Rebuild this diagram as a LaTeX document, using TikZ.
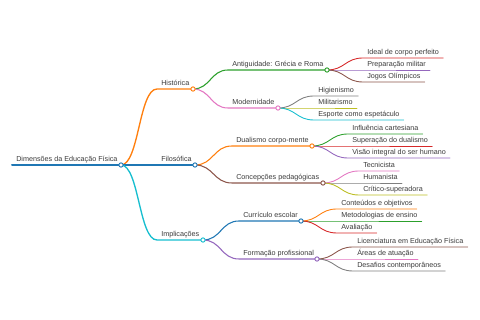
\documentclass[tikz,border=0pt]{standalone}
\usepackage{fontspec}
\setmainfont{Liberation Sans}
\usetikzlibrary{calc}

\definecolor{tBlue}{HTML}{1F77B4}
\definecolor{tOrange}{HTML}{FF7F0E}
\definecolor{tGreen}{HTML}{2CA02C}
\definecolor{tRed}{HTML}{D62728}
\definecolor{tPurple}{HTML}{9467BD}
\definecolor{tBrown}{HTML}{8C564B}
\definecolor{tPink}{HTML}{E377C2}
\definecolor{tGray}{HTML}{7F7F7F}
\definecolor{tOlive}{HTML}{BCBD22}
\definecolor{tCyan}{HTML}{17BECF}
\definecolor{txt}{HTML}{3A3A3A}

\tikzset{
  lbl/.style={anchor=south west,inner xsep=3pt,inner ysep=2.25pt,text depth=0pt,text=txt},
  hub/.style={circle,draw,fill=white,line width=0.7pt,inner sep=0pt,minimum size=3.2pt},
  branch/.style={to path={let \p1=(\tikztostart),\p2=(\tikztotarget) in
    .. controls ({(\x1+\x2)/2},\y1) and ({(\x1+\x2)/2},\y2) .. (\tikztotarget)}},
  lvone/.style={line width=1pt},
  lvtwo/.style={line width=0.8pt},
  lvthree/.style={line width=0.65pt},
}

\begin{document}
\begin{tikzpicture}[x=0.75pt,y=-0.75pt,line cap=round,font=\fontsize{5.4}{6.5}\selectfont]
  \useasboundingbox (0,0) rectangle (480,320);

  % 起点与圆心
  \coordinate (root-s) at (12,165);    \coordinate (root-c) at (121,165);
  \coordinate (hist-s) at (157,89);    \coordinate (hist-c) at (193,89);
  \coordinate (filo-s) at (157,165);   \coordinate (filo-c) at (195,165);
  \coordinate (impl-s) at (157,240);   \coordinate (impl-c) at (203,240);
  \coordinate (anti-s) at (228,70);    \coordinate (anti-c) at (327,70);
  \coordinate (mode-s) at (228,108);   \coordinate (mode-c) at (278,108);
  \coordinate (dual-s) at (232,146);   \coordinate (dual-c) at (312,146);
  \coordinate (conc-s) at (232,183);   \coordinate (conc-c) at (323,183);
  \coordinate (curr-s) at (239,221);   \coordinate (curr-c) at (301,221);
  \coordinate (form-s) at (239,259);   \coordinate (form-c) at (317,259);

  % 主干文字
  \node[lbl] (root) at (root-s) {Dimensões da Educação Física};
  \node[lbl] (hist) at (hist-s) {Histórica};
  \node[lbl] (filo) at (filo-s) {Filosófica};
  \node[lbl] (impl) at (impl-s) {Implicações};
  \node[lbl] (anti) at (anti-s) {Antiguidade: Grécia e Roma};
  \node[lbl] (mode) at (mode-s) {Modernidade};
  \node[lbl] (dual) at (dual-s) {Dualismo corpo-mente};
  \node[lbl] (conc) at (conc-s) {Concepções pedagógicas};
  \node[lbl] (curr) at (curr-s) {Currículo escolar};
  \node[lbl] (form) at (form-s) {Formação profissional};

  % 叶子文字
  \node[lbl] (ideal) at (363,58) {Ideal de corpo perfeito};
  \node[lbl] (prep) at (363,70) {Preparação militar};
  \node[lbl] (jogo) at (363,82) {Jogos Olímpicos};
  \node[lbl] (higi) at (314,96) {Higienismo};
  \node[lbl] (mili) at (314,108) {Militarismo};
  \node[lbl] (espo) at (314,120) {Esporte como espetáculo};
  \node[lbl] (infl) at (348,134) {Influência cartesiana};
  \node[lbl] (supe) at (348,146) {Superação do dualismo};
  \node[lbl] (visa) at (348,158) {Visão integral do ser humano};
  \node[lbl] (tecn) at (359,171) {Tecnicista};
  \node[lbl] (huma) at (359,183) {Humanista};
  \node[lbl] (crit) at (359,195) {Crítico-superadora};
  \node[lbl] (cont) at (337,209) {Conteúdos e objetivos};
  \node[lbl] (meto) at (337,221) {Metodologias de ensino};
  \node[lbl] (aval) at (337,233) {Avaliação};
  \node[lbl] (lice) at (353,247) {Licenciatura em Educação Física};
  \node[lbl] (area) at (353,259) {Áreas de atuação};
  \node[lbl] (desa) at (353,271) {Desafios contemporâneos};

  % 第一层
  \draw[tBlue,line width=1.5pt] (root-s) -- (root-c);
  \draw[tOrange,lvone] (root-c) to[branch] (hist-s) -- (hist-c);
  \draw[tBlue,lvone] (root-c) -- (filo-s) -- (filo-c);
  \draw[tCyan,lvone] (root-c) to[branch] (impl-s) -- (impl-c);

  % 第二层
  \draw[tGreen,lvtwo] (hist-c) to[branch] (anti-s) -- (anti-c);
  \draw[tPink,lvtwo] (hist-c) to[branch] (mode-s) -- (mode-c);
  \draw[tOrange,lvtwo] (filo-c) to[branch] (dual-s) -- (dual-c);
  \draw[tBrown,lvtwo] (filo-c) to[branch] (conc-s) -- (conc-c);
  \draw[tBlue,lvtwo] (impl-c) to[branch] (curr-s) -- (curr-c);
  \draw[tPurple,lvtwo] (impl-c) to[branch] (form-s) -- (form-c);

  % 第三层
  \draw[tRed,lvthree] (anti-c) to[branch] (ideal.south west) -- (ideal.south east);
  \draw[tPurple,lvthree] (anti-c) to[branch] (prep.south west) -- (prep.south east);
  \draw[tBrown,lvthree] (anti-c) to[branch] (jogo.south west) -- (jogo.south east);
  \draw[tGray,lvthree] (mode-c) to[branch] (higi.south west) -- (higi.south east);
  \draw[tOlive,lvthree] (mode-c) to[branch] (mili.south west) -- (mili.south east);
  \draw[tCyan,lvthree] (mode-c) to[branch] (espo.south west) -- (espo.south east);
  \draw[tGreen,lvthree] (dual-c) to[branch] (infl.south west) -- (infl.south east);
  \draw[tRed,lvthree] (dual-c) to[branch] (supe.south west) -- (supe.south east);
  \draw[tPurple,lvthree] (dual-c) to[branch] (visa.south west) -- (visa.south east);
  \draw[tPink,lvthree] (conc-c) to[branch] (tecn.south west) -- (tecn.south east);
  \draw[tGray,lvthree] (conc-c) to[branch] (huma.south west) -- (huma.south east);
  \draw[tOlive,lvthree] (conc-c) to[branch] (crit.south west) -- (crit.south east);
  \draw[tOrange,lvthree] (curr-c) to[branch] (cont.south west) -- (cont.south east);
  \draw[tGreen,lvthree] (curr-c) to[branch] (meto.south west) -- (meto.south east);
  \draw[tRed,lvthree] (curr-c) to[branch] (aval.south west) -- (aval.south east);
  \draw[tBrown,lvthree] (form-c) to[branch] (lice.south west) -- (lice.south east);
  \draw[tPink,lvthree] (form-c) to[branch] (area.south west) -- (area.south east);
  \draw[tGray,lvthree] (form-c) to[branch] (desa.south west) -- (desa.south east);

  % 圆
  \node[hub,draw=tBlue] (root-o) at (root-c) {};
  \node[hub,draw=tOrange] (hist-o) at (hist-c) {};
  \node[hub,draw=tBlue] (filo-o) at (filo-c) {};
  \node[hub,draw=tCyan] (impl-o) at (impl-c) {};
  \node[hub,draw=tGreen] (anti-o) at (anti-c) {};
  \node[hub,draw=tPink] (mode-o) at (mode-c) {};
  \node[hub,draw=tOrange] (dual-o) at (dual-c) {};
  \node[hub,draw=tBrown] (conc-o) at (conc-c) {};
  \node[hub,draw=tBlue] (curr-o) at (curr-c) {};
  \node[hub,draw=tPurple] (form-o) at (form-c) {};
\end{tikzpicture}
\end{document}
